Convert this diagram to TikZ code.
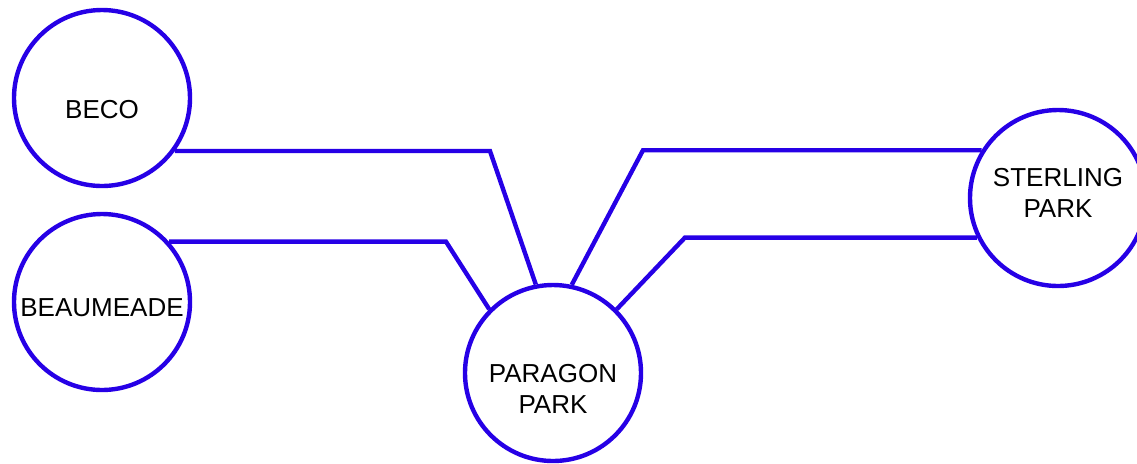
\documentclass[tikz,border=0pt]{standalone}
\usepackage{fontspec}
\setmainfont{Liberation Sans}
\usepackage{tikz}
\definecolor{linkblue}{RGB}{38,0,230}

\begin{document}
\begin{tikzpicture}[
    x=0.5pt, y=-0.5pt,
    station/.style={circle, draw=linkblue, line width=2.2pt, fill=white, minimum size=88pt, inner sep=0pt},
    stationtext/.style={align=center, font=\fontsize{13}{15.5}\selectfont, inner sep=0pt},
    link/.style={draw=linkblue, line width=2.2pt}
]
\useasboundingbox (0,0) rectangle (1137,463);
\node[station, label={[stationtext, yshift=-6pt]center:BECO}] (beco) at (102,98) {};
\node[station, label={[stationtext, yshift=-3pt]center:BEAUMEADE}] (beaumeade) at (102,302) {};
\node[station, label={[stationtext, yshift=-8pt]center:PARAGON\\PARK}] (paragon) at (553,373) {};
\node[station, label={[stationtext, yshift=2.5pt]center:STERLING\\PARK}] (sterling) at (1058,198) {};
\coordinate (becobend) at (beco.-36 -| 490,0);
\coordinate (beaubend) at (beaumeade.42 -| 446,0);
\coordinate (sterlingbendA) at (sterling.148 -| 643,0);
\coordinate (sterlingbendB) at (sterling.-154 -| 685,0);
\draw[link] (beco.-36) -- (becobend) -- (paragon.101);
\draw[link] (beaumeade.42) -- (beaubend) -- (paragon.135);
\draw[link] (sterling.148) -- (sterlingbendA) -- (paragon.78);
\draw[link] (sterling.-154) -- (sterlingbendB) -- (paragon.45);
\end{tikzpicture}
\end{document}
